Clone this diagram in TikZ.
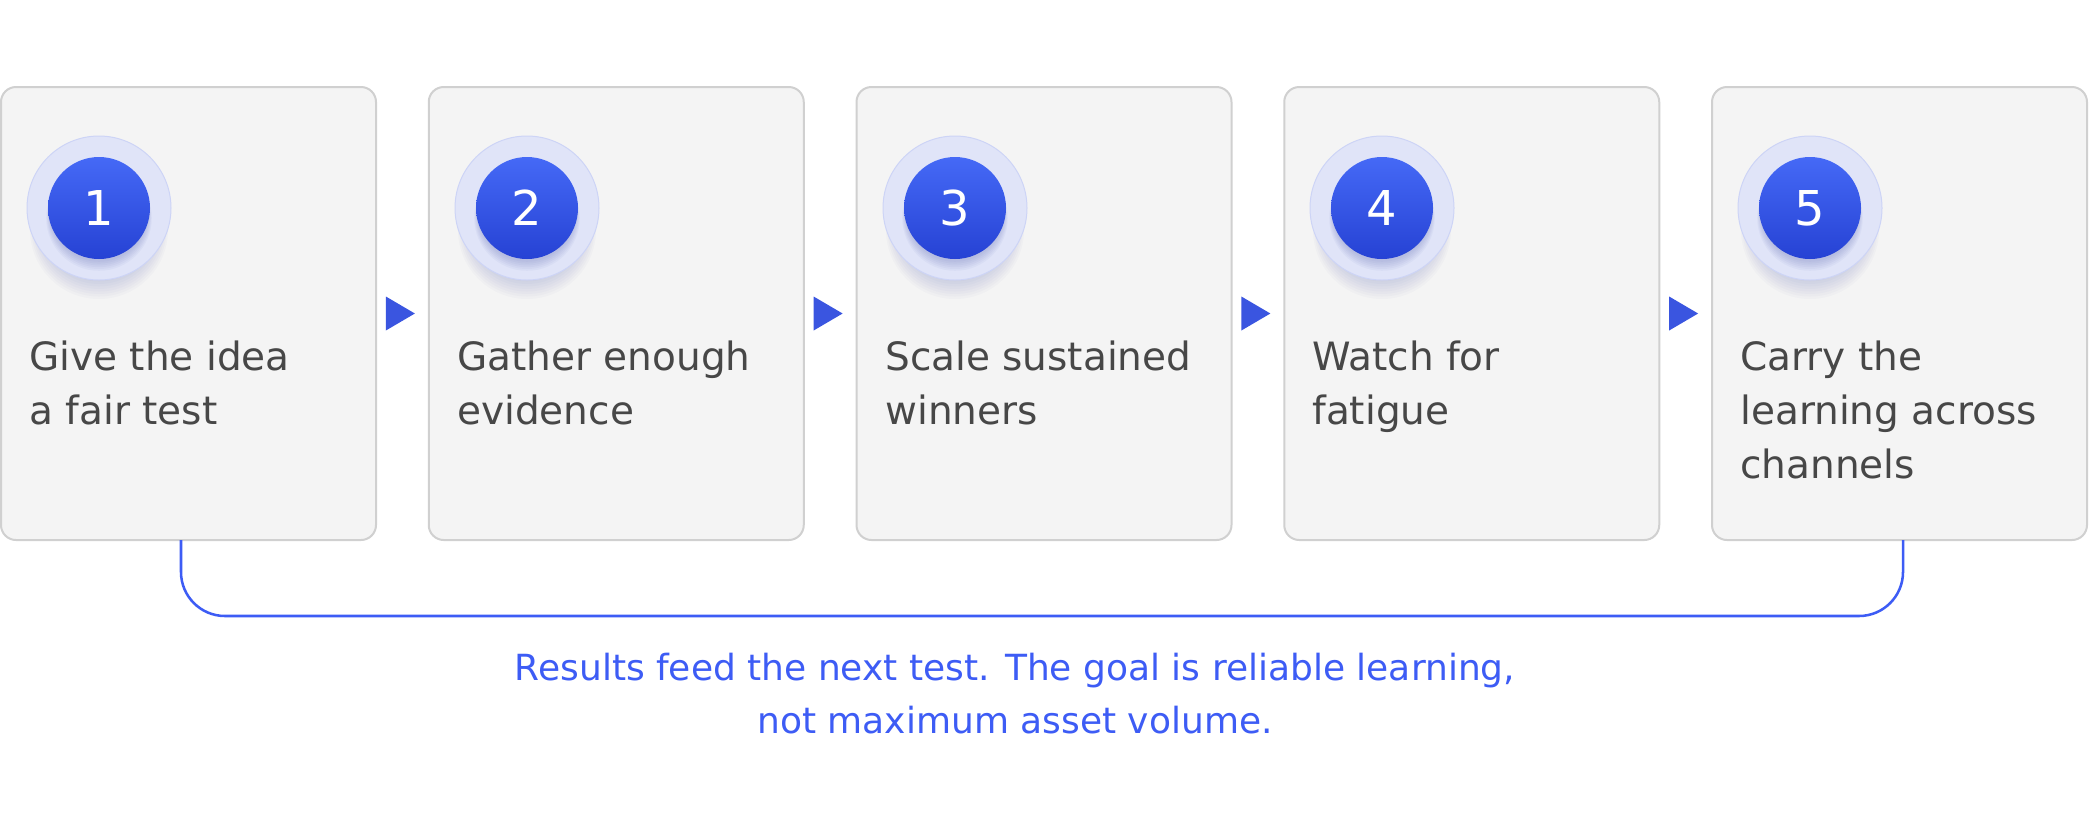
\documentclass[tikz,border=0pt]{standalone}
\usepackage{fontspec}
\setmainfont{DejaVu Sans}
\usetikzlibrary{calc}
\definecolor{boxfill}{HTML}{F4F4F4}
\definecolor{boxline}{HTML}{D0D0D0}
\definecolor{txtgray}{HTML}{474747}
\definecolor{accent}{HTML}{3D5CF5}
\definecolor{arrowc}{HTML}{3A55E0}
\definecolor{halofill}{HTML}{E0E4F8}
\definecolor{haloline}{HTML}{CDD4F6}
\definecolor{ballTop}{HTML}{4569F6}
\definecolor{ballBot}{HTML}{2642D4}
\definecolor{shadowc}{HTML}{2A3A9A}
\tikzset{
  stepbox/.style={draw=boxline, fill=boxfill, line width=1.5pt, rounded corners=11.25pt,
    minimum width=281.25pt, minimum height=339.75pt, inner sep=0pt, outer sep=0pt},
  steptext/.style={anchor=base west, align=left, inner sep=0pt, text=txtgray,
    font=\fontsize{29.25pt}{40.5pt}\selectfont},
  numtext/.style={text=white, inner sep=0pt, font=\fontsize{36pt}{36pt}\selectfont},
  loopline/.style={draw=accent, line width=1.9pt, rounded corners=33pt},
  notetext/.style={align=center, inner sep=0pt, text=accent,
    font=\fontsize{27pt}{39.75pt}\selectfont}
}
\newcommand{\ballat}[3]{%
  \foreach \k in {1,...,14}{
    \fill[shadowc, opacity=0.022] (#1,#2+8+\k) circle ({48+\k*1.5});
  }
  \fill[halofill, draw=haloline, line width=0.75pt] (#1,#2) circle (72);
  \foreach \k in {1,...,6}{
    \fill[shadowc, opacity=0.04] (#1,#2+4+\k) circle ({48+\k*0.8});
  }
  \shade[top color=ballTop, bottom color=ballBot] (#1,#2) circle (51);
  \node[numtext] (n#3) at (#1,#2) {#3};
}
\begin{document}
\begin{tikzpicture}[x=0.75pt,y=-0.75pt]
\fill[white] (0,0) rectangle (2093,819);
\useasboundingbox (0,0) rectangle (2093,819);
% boxes
\node[stepbox] (b1) at (188.5,313.5) {};
\node[stepbox] (b2) at (616.25,313.5) {};
\node[stepbox] (b3) at (1044,313.5) {};
\node[stepbox] (b4) at (1471.75,313.5) {};
\node[stepbox] (b5) at (1899.5,313.5) {};
% balls
\ballat{99}{208}{1}
\ballat{527}{208}{2}
\ballat{955}{208}{3}
\ballat{1382}{208}{4}
\ballat{1810}{208}{5}
% texts (anchor = baseline of last line)
\node[steptext] (t1) at (29,424) {Give the idea\\a fair test};
\node[steptext] (t2) at (457,424) {Gather enough\\evidence};
\node[steptext] (t3) at (885,424) {Scale sustained\\winners};
\node[steptext] (t4) at (1312,424) {Watch for\\fatigue};
\node[steptext] (t5) at (1740,478) {Carry the\\learning across\\channels};
% arrows between boxes
\foreach \a/\b in {b1/b2,b2/b3,b3/b4,b4/b5}{
  \coordinate (m) at ($(\a.east)!0.5!(\b.west)+(-2,0)$);
  \fill[arrowc] ($(m)+(-14.5,-17)$) -- ($(m)+(14.5,0)$) -- ($(m)+(-14.5,17)$) -- cycle;
}
% feedback loop
\coordinate (p1) at ($(b1.south)+(-7.5,0)$);
\coordinate (p5) at ($(b5.south)+(3.5,0)$);
\draw[loopline] (p1) -- ($(p1)+(0,76)$) -| (p5);
\node[notetext] (note) at (1015,694) {Results feed the next test. The goal is reliable learning,\\not maximum asset volume.};
\end{tikzpicture}
\end{document}
